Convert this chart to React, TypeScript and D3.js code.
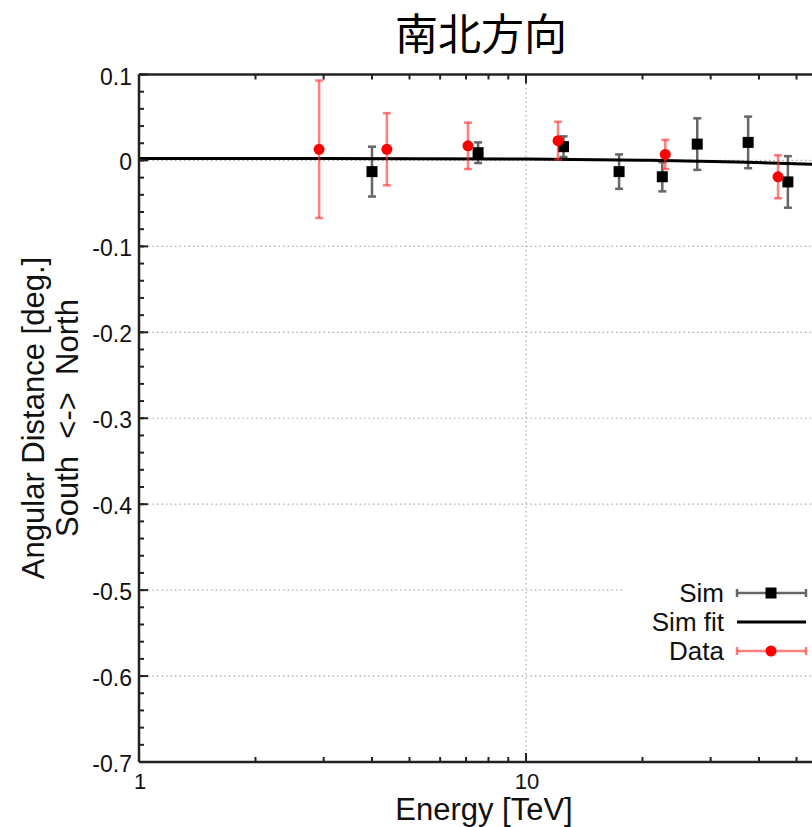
import React from "react";
import * as d3 from "d3";

// Simulation points: energy [TeV], offset [deg.], error [deg.]
const simEnergy = [4.0, 7.52, 12.5, 17.4, 22.5, 27.7, 37.5, 47.5];
const simValue = [-0.013, 0.009, 0.016, -0.013, -0.019, 0.019, 0.021, -0.025];
const simError = [0.029, 0.012, 0.012, 0.02, 0.017, 0.03, 0.03, 0.03];

// Observed data points
const dataEnergy = [2.92, 4.37, 7.08, 12.1, 22.9, 44.8];
const dataValue = [0.013, 0.013, 0.017, 0.023, 0.007, -0.019];
const dataError = [0.08, 0.042, 0.027, 0.022, 0.017, 0.025];

// Simulation fit curve samples
const fitEnergy = [1, 3, 10, 20, 35, 60];
const fitValue = [0.0024, 0.0023, 0.0016, 0.0003, -0.0017, -0.005];

const yTicks = [0.1, 0, -0.1, -0.2, -0.3, -0.4, -0.5, -0.6, -0.7];
const xTicks = [1, 10];
const legendLabels = ["Sim", "Sim fit", "Data"];

const W = 812;
const H = 827;
const FONT = "'Liberation Sans', Arial, Helvetica, sans-serif";

export default function App() {
  const x = d3.scaleLog().domain([1, 60]).range([139, 139 + 387 * Math.log10(60)]);
  const y = d3.scaleLinear().domain([-0.7, 0.1]).range([762, 74.5]);
  const [x0, x1] = x.range();
  const [yb, yt] = y.range();

  const minorX: number[] = [];
  for (let d = 1; d <= 10; d *= 10) {
    for (let k = 2; k <= 9; k++) if (d * k <= 60) minorX.push(d * k);
  }
  const minorY = d3.range(-0.7, 0.1001, 0.02);

  const fitLine = d3
    .line<number>()
    .x((_, i) => x(fitEnergy[i]))
    .y((v) => y(v))
    .curve(d3.curveMonotoneX)(fitValue) as string;

  const simColor = "#666";
  const dataColor = "rgba(255,40,40,0.6)";

  const errBar = (
    key: string,
    cx: number,
    v: number,
    e: number,
    color: string
  ) => {
    const ya = y(v + e);
    const yb2 = y(v - e);
    return (
      <g key={key} stroke={color} strokeWidth={2.5}>
        <line x1={cx} x2={cx} y1={ya} y2={yb2} />
        <line x1={cx - 4} x2={cx + 4} y1={ya} y2={ya} />
        <line x1={cx - 4} x2={cx + 4} y1={yb2} y2={yb2} />
      </g>
    );
  };

  const legY = [593, 622, 651];
  const lx0 = 737;
  const lx1 = 806;
  const lxm = 771;

  return (
    <div style={{ position: "absolute", left: 0, top: 0 }}>
      <svg width={W} height={H} style={{ display: "block", background: "#fff" }}>
        {/* grid */}
        <g stroke="#aaa" strokeWidth={1.2} strokeDasharray="1.5,3">
          {yTicks
            .filter((t) => t !== 0.1 && t !== -0.7)
            .map((t) => (
              <line key={`gy${t}`} x1={x0} x2={x1} y1={y(t)} y2={y(t)} />
            ))}
          <line x1={x(10)} x2={x(10)} y1={yt} y2={yb} />
        </g>

        {/* Sim points */}
        {simEnergy.map((e, i) => errBar(`se${i}`, x(e), simValue[i], simError[i], simColor))}
        {simEnergy.map((e, i) => (
          <rect key={`sp${i}`} x={x(e) - 5.5} y={y(simValue[i]) - 5.5} width={11} height={11} fill="#000" />
        ))}

        {/* Sim fit */}
        <path d={fitLine} fill="none" stroke="#000" strokeWidth={3} />

        {/* Data points */}
        {dataEnergy.map((e, i) => errBar(`de${i}`, x(e), dataValue[i], dataError[i], dataColor))}
        {dataEnergy.map((e, i) => (
          <circle key={`dp${i}`} cx={x(e)} cy={y(dataValue[i])} r={5.5} fill="#f00" />
        ))}

        {/* frame and ticks */}
        <g stroke="#222" strokeWidth={2.5}>
          <line x1={x0} x2={x0} y1={yt} y2={yb} />
          <line x1={x0} x2={W + 20} y1={yt} y2={yt} />
          <line x1={x0} x2={W + 20} y1={yb} y2={yb} />
        </g>
        <g stroke="#222" strokeWidth={2}>
          {yTicks.map((t) => (
            <line key={`ty${t}`} x1={x0} x2={x0 + 9} y1={y(t)} y2={y(t)} />
          ))}
          {minorY.map((t, i) => (
            <line key={`my${i}`} x1={x0} x2={x0 + 5} y1={y(t)} y2={y(t)} />
          ))}
          {xTicks.map((t) => (
            <g key={`tx${t}`}>
              <line x1={x(t)} x2={x(t)} y1={yb} y2={yb - 9} />
              <line x1={x(t)} x2={x(t)} y1={yt} y2={yt + 9} />
            </g>
          ))}
          {minorX.map((t) => (
            <g key={`mx${t}`}>
              <line x1={x(t)} x2={x(t)} y1={yb} y2={yb - 5} />
              <line x1={x(t)} x2={x(t)} y1={yt} y2={yt + 5} />
            </g>
          ))}
        </g>

        {/* tick labels */}
        <g fontFamily={FONT} fontSize={23} fill="#111">
          {yTicks.map((t) => (
            <text key={`ly${t}`} x={x0 - 7} y={y(t) + 10} textAnchor="end">
              {d3.format("")(t).replace("\u2212", "-")}
            </text>
          ))}
        </g>
        <g fontFamily={FONT} fontSize={22} fill="#111">
          {xTicks.map((t) => (
            <text key={`lx${t}`} x={x(t) + 1} y={789} textAnchor="middle">
              {t}
            </text>
          ))}
        </g>

        {/* axis titles */}
        <text x={484} y={820} fontFamily={FONT} fontSize={31} textAnchor="middle" fill="#111">
          Energy [TeV]
        </text>
        <g transform="translate(0,418) rotate(-90)" fontFamily={FONT} fontSize={31} fill="#111" textAnchor="middle">
          <text x={0} y={44}>Angular Distance [deg.]</text>
          <text x={0} y={78} style={{ whiteSpace: "pre" }}>South  &lt;-&gt;  North</text>
        </g>
        <text
          x={481}
          y={50}
          fontFamily="'Noto Sans CJK JP', 'Noto Sans CJK SC', sans-serif"
          fontSize={43}
          textAnchor="middle"
          fill="#000"
        >
          南北方向
        </text>

        {/* legend */}
        <rect x={622} y={577} width={W} height={88} fill="#fff" />
        <g fontFamily={FONT} fontSize={26} fill="#111">
          {legendLabels.map((l, i) => (
            <text key={l} x={724} y={legY[i] + 9} textAnchor="end">
              {l}
            </text>
          ))}
        </g>
        <g stroke={simColor} strokeWidth={2.5}>
          <line x1={lx0} x2={lx1} y1={legY[0]} y2={legY[0]} />
          <line x1={lx0} x2={lx0} y1={legY[0] - 4} y2={legY[0] + 4} />
          <line x1={lx1} x2={lx1} y1={legY[0] - 4} y2={legY[0] + 4} />
        </g>
        <rect x={lxm - 5.5} y={legY[0] - 5.5} width={11} height={11} fill="#000" />
        <line x1={lx0} x2={lx1} y1={legY[1]} y2={legY[1]} stroke="#000" strokeWidth={3} />
        <g stroke={dataColor} strokeWidth={2.5}>
          <line x1={lx0} x2={lx1} y1={legY[2]} y2={legY[2]} />
          <line x1={lx0} x2={lx0} y1={legY[2] - 4} y2={legY[2] + 4} />
          <line x1={lx1} x2={lx1} y1={legY[2] - 4} y2={legY[2] + 4} />
        </g>
        <circle cx={lxm} cy={legY[2]} r={5.5} fill="#f00" />
      </svg>
    </div>
  );
}
